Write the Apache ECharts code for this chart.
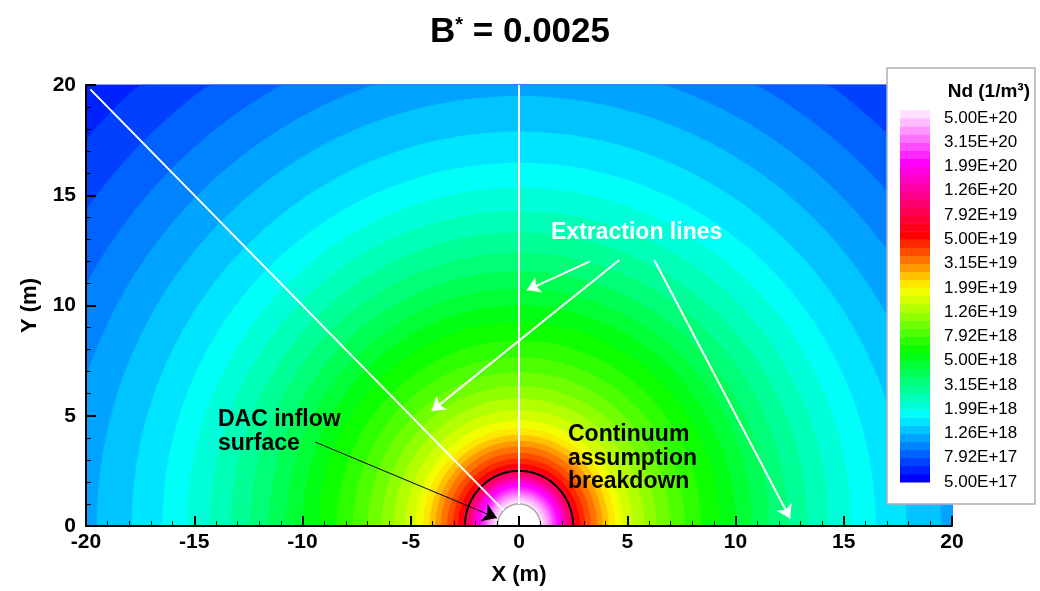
<!DOCTYPE html>
<html><head><meta charset="utf-8">
<script src="https://cdn.jsdelivr.net/npm/echarts@6/dist/echarts.min.js"></script>
<style>html,body{margin:0;padding:0;background:#fff}#c{width:1040px;height:591px}</style>
</head><body><div id="c"></div>
<script>
// ---------- data ----------
const xTicks = [-20, -15, -10, -5, 0, 5, 10, 15, 20];
const yTicks = [0, 5, 10, 15, 20];
const levelLabels = ['5.00E+17','7.92E+17','1.26E+18','1.99E+18','3.15E+18','5.00E+18','7.92E+18','1.26E+19',
  '1.99E+19','3.15E+19','5.00E+19','7.92E+19','1.26E+20','1.99E+20','3.15E+20','5.00E+20'];
// contour level (index on the colour legend, 1 unit = one labelled step)
const contourLevel = [0,0.333,0.667,1,1.333,1.667,2,2.333,2.667,3,3.333,3.667,4,4.333,4.667,5,5.333,5.667,6,
  6.333,6.667,7,7.333,7.667,8,8.333,8.667,9,9.333,9.667,10,10.333,10.667,11,11.333,11.667,12,12.333,12.667,13,
  13.333,13.667,14,14.333,14.667,15];
// radius (m) at which the Nd field reaches each contour level
const contourRadius = [31.0,28.7,26.6,24.6,22.8,21.1,19.49,17.88,16.46,15.33,14.28,13.30,12.39,11.54,10.75,10.0,
  9.24,8.41,7.65,6.97,6.34,5.77,5.25,4.78,4.42,4.12,3.85,3.60,3.31,3.05,2.80,2.68,2.57,2.46,2.36,2.26,2.16,2.07,
  1.98,1.90,1.76,1.63,1.51,1.40,1.27,1.12];
const legendTopLevel = 15.333;
const bodyRadius = 1.0;        // DAC inflow surface
const breakdownRadius = 2.5;   // continuum assumption breakdown
const extractionLines = [[[-0.71, 0.71], [-19.8, 19.8]], [[0, 1.0], [0, 20]]];
const extractionArrows = [[[3.28, 12.0], [0.37, 10.7]], [[4.63, 12.06], [-4.03, 5.22]], [[6.25, 12.06], [12.52, 0.35]]];
const dacArrow = [[[-9.42, 3.81], [-1.02, 0.36]]];

// ---------- style ----------
const F = '"Liberation Sans", Arial, Helvetica, sans-serif';
const colorStops = [[0,[0,0,255]],[2.6,[0,255,255]],[5.2,[0,255,0]],[7.8,[255,255,0]],[10,[255,0,0]],[13,[255,0,255]],[15,[255,225,255]]];
function levelColor(k) {
  if (k <= colorStops[0][0]) return 'rgb(' + colorStops[0][1].join(',') + ')';
  for (let i = 1; i < colorStops.length; i++) {
    if (k <= colorStops[i][0]) {
      const a = colorStops[i-1], b = colorStops[i];
      const t = (k - a[0]) / (b[0] - a[0]);
      const c = a[1].map((v, j) => Math.round(v + (b[1][j] - v) * t));
      return 'rgb(' + c.join(',') + ')';
    }
  }
  return 'rgb(' + colorStops[colorStops.length-1][1].join(',') + ')';
}
function clamp(v, a, b) { return Math.max(a, Math.min(b, v)); }
function halfDisk(api, r) {
  const pts = [];
  const N = 180;
  for (let j = 0; j <= N; j++) {
    const th = Math.PI * j / N;
    pts.push(api.coord([clamp(r * Math.cos(th), -20, 20), clamp(r * Math.sin(th), 0, 20)]));
  }
  return pts;
}

const fieldData = contourRadius.map((r, i) => [r, contourLevel[i]]);
const barData = contourLevel.map((k, i) => [k, i + 1 < contourLevel.length ? contourLevel[i+1] : legendTopLevel]);

const chart = echarts.init(document.getElementById('c'), null, {renderer: 'canvas'});
const axisLabelStyle = {color: '#000', fontFamily: F, fontWeight: 'bold', fontSize: 21};
chart.setOption({
  animation: false,
  backgroundColor: '#fff',
  title: {
    text: '{b|B}{s|*}{b| = 0.0025}', left: 'center', top: 10,
    textStyle: {rich: {
      b: {fontSize: 35, fontWeight: 'bold', fontFamily: F, color: '#000'},
      s: {fontSize: 20, fontWeight: 'bold', fontFamily: F, color: '#000', verticalAlign: 'top'}
    }}
  },
  grid: [
    {left: 86, top: 85, width: 866, height: 441},
    {left: 900, top: 118, width: 30, height: 364, z: 110}
  ],
  xAxis: [{
    type: 'value', min: -20, max: 20, interval: 5, z: 10,
    name: 'X (m)', nameLocation: 'middle', nameGap: 38,
    nameTextStyle: {color: '#000', fontFamily: F, fontWeight: 'bold', fontSize: 22},
    axisLine: {lineStyle: {color: '#000', width: 2}},
    axisTick: {inside: true, length: 10, lineStyle: {color: '#000', width: 2}},
    minorTick: {show: true, splitNumber: 5, length: 5, lineStyle: {color: '#000', width: 1}},
    splitLine: {show: false},
    axisLabel: Object.assign({margin: 6, formatter: v => xTicks.includes(v) ? String(v) : ''}, axisLabelStyle)
  }, {
    gridIndex: 1, type: 'value', min: 0, max: 1, show: false
  }],
  yAxis: [{
    type: 'value', min: 0, max: 20, interval: 5, z: 10,
    name: 'Y (m)', nameLocation: 'middle', nameGap: 45, nameRotate: 90,
    nameTextStyle: {color: '#000', fontFamily: F, fontWeight: 'bold', fontSize: 22},
    axisLine: {onZero: false, lineStyle: {color: '#000', width: 2}},
    axisTick: {inside: true, length: 10, lineStyle: {color: '#000', width: 2}},
    minorTick: {show: true, splitNumber: 5, length: 5, lineStyle: {color: '#000', width: 1}},
    splitLine: {show: false},
    axisLabel: Object.assign({margin: 10, formatter: v => yTicks.includes(v) ? String(v) : ''}, axisLabelStyle)
  }, {
    gridIndex: 1, type: 'value', min: 0, max: 15, interval: 1, position: 'right', z: 110,
    axisLine: {show: false}, axisTick: {show: false}, splitLine: {show: false},
    axisLabel: {margin: 14, color: '#000', fontFamily: F, fontSize: 17,
      formatter: v => (Number.isInteger(v) && levelLabels[v]) ? levelLabels[v] : ''}
  }],
  series: [{
    name: 'Nd field', type: 'custom', coordinateSystem: 'cartesian2d', z: 2,
    data: fieldData, silent: true,
    renderItem: (params, api) => ({
      type: 'polygon',
      shape: {points: halfDisk(api, api.value(0))},
      style: {fill: levelColor(api.value(1)), stroke: levelColor(api.value(1)), lineWidth: 0.5}
    })
  }, {
    name: 'Breakdown', type: 'custom', coordinateSystem: 'cartesian2d', z: 4, silent: true,
    data: [[breakdownRadius, 0]],
    renderItem: (params, api) => ({
      type: 'polyline', shape: {points: halfDisk(api, api.value(0))},
      style: {stroke: '#000', lineWidth: 2, fill: null}
    })
  }, {
    name: 'Body', type: 'custom', coordinateSystem: 'cartesian2d', z: 5, silent: true,
    data: [[bodyRadius, 0]],
    renderItem: (params, api) => ({
      type: 'polygon', shape: {points: halfDisk(api, api.value(0))},
      style: {fill: '#fff', stroke: '#a8a8a8', lineWidth: 1.5}
    })
  }, {
    name: 'Extraction lines', type: 'lines', coordinateSystem: 'cartesian2d', z: 6, silent: true,
    data: extractionLines.map(c => ({coords: c})),
    lineStyle: {color: '#fff', width: 2, opacity: 1}, symbol: 'none'
  }, {
    name: 'Extraction arrows', type: 'lines', coordinateSystem: 'cartesian2d', z: 6, silent: true,
    data: extractionArrows.map(c => ({coords: c})),
    lineStyle: {color: '#fff', width: 2, opacity: 1},
    symbol: ['none', 'arrow'], symbolSize: 13
  }, {
    name: 'DAC arrow', type: 'lines', coordinateSystem: 'cartesian2d', z: 6, silent: true,
    data: dacArrow.map(c => ({coords: c})),
    lineStyle: {color: '#000', width: 1, opacity: 1},
    symbol: ['none', 'arrow'], symbolSize: 14
  }, {
    name: 'Colour legend', type: 'custom', xAxisIndex: 1, yAxisIndex: 1, z: 110, silent: true,
    data: barData,
    renderItem: (params, api) => {
      const p0 = api.coord([0, api.value(1)]);
      const p1 = api.coord([1, api.value(0)]);
      const c = levelColor(api.value(0));
      return {type: 'rect', shape: {x: p0[0], y: p0[1], width: p1[0] - p0[0], height: p1[1] - p0[1] + 0.5},
        style: {fill: c}};
    }
  }],
  graphic: [
    {type: 'rect', z: 100, shape: {x: 887, y: 68, width: 148, height: 436},
      style: {fill: '#fff', stroke: '#b0b0b0', lineWidth: 1.5}},
    {type: 'text', z: 110, x: 1030, y: 92,
      style: {text: 'Nd (1/m³)', fill: '#000', font: 'bold 19px ' + F, textAlign: 'right', align: 'right',
        textVerticalAlign: 'middle', verticalAlign: 'middle'}},
    {type: 'text', z: 50, x: 551, y: 233,
      style: {text: 'Extraction lines', fill: '#fff', font: 'bold 23px ' + F, textAlign: 'left', align: 'left',
        textVerticalAlign: 'middle', verticalAlign: 'middle'}},
    {type: 'text', z: 50, x: 568, y: 423,
      style: {text: 'Continuum\nassumption\nbreakdown', fill: '#000', font: 'bold 23px ' + F, lineHeight: 23.5,
        textAlign: 'left', align: 'left', textVerticalAlign: 'top', verticalAlign: 'top'}},
    {type: 'text', z: 50, x: 218, y: 408,
      style: {text: 'DAC inflow\nsurface', fill: '#000', font: 'bold 23px ' + F, lineHeight: 23.5,
        textAlign: 'left', align: 'left', textVerticalAlign: 'top', verticalAlign: 'top'}}
  ]
});
</script>
</body></html>
